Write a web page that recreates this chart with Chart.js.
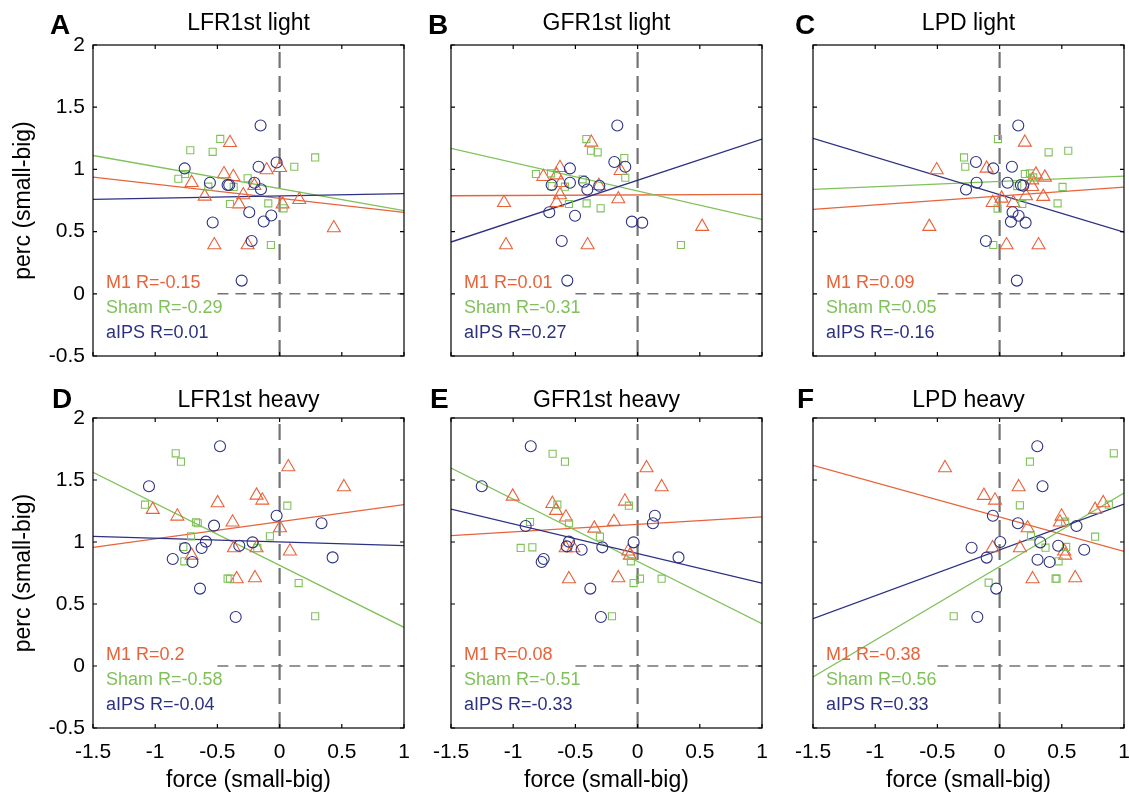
<!DOCTYPE html>
<html>
<head>
<meta charset="utf-8">
<script src="https://cdn.jsdelivr.net/npm/chart.js@4.4.0/dist/chart.umd.min.js"></script>
<style>
  body { margin: 0; background: #fff; width: 1129px; height: 794px; position: relative; overflow: hidden; }
  canvas { position: absolute; }
</style>
</head>
<body>
<script>
// ---- data: [force, perc] pairs per group ----
const FIT_X = [-1.5, 1];
const X_TICKS = [-1.5, -1, -0.5, 0, 0.5, 1];
const Y_TICKS = [-0.5, 0, 0.5, 1, 1.5, 2];

const A_M1 = [[-0.399,1.214],[-0.447,0.963],[-0.372,0.941],[-0.707,0.893],[-0.104,0.995],[0.003,1.013],[-0.203,0.869],[-0.292,0.794],[-0.602,0.783],[-0.327,0.721],[0.024,0.721],[0.158,0.756],[0.436,0.529],[-0.525,0.392],[-0.257,0.392]];
const A_SHAM = [[-0.477,1.245],[-0.718,1.154],[-0.538,1.141],[0.286,1.096],[0.118,1.021],[-0.814,0.925],[-0.760,0.963],[-0.257,0.928],[-0.573,0.861],[-0.369,0.859],[-0.399,0.722],[-0.091,0.727],[0.032,0.687],[-0.070,0.392]];
const A_AIPS = [[-0.153,1.353],[-0.763,1.008],[-0.024,1.056],[-0.169,1.021],[-0.560,0.893],[-0.418,0.874],[-0.405,0.874],[-0.203,0.893],[-0.150,0.840],[-0.244,0.656],[-0.067,0.629],[-0.128,0.581],[-0.538,0.573],[-0.225,0.424],[-0.305,0.106]];
const A_FIT = { m1: [0.938, 0.655], sham: [1.112, 0.669], aips: [0.759, 0.805] };
const A_R = ['M1 R=-0.15', 'Sham R=-0.29', 'aIPS R=0.01'];

const B_M1 = [[-0.372,1.217],[-0.624,1.013],[-0.651,0.954],[-0.758,0.941],[-0.616,0.893],[-0.311,0.869],[-0.137,0.989],[-0.624,0.794],[-0.651,0.732],[-0.155,0.762],[-1.074,0.732],[0.519,0.540],[-1.058,0.392],[-0.402,0.392]];
const B_SHAM = [[-0.412,1.244],[-0.375,1.150],[-0.321,1.137],[-0.107,1.091],[-0.099,0.933],[-0.817,0.963],[-0.696,0.968],[-0.442,0.920],[-0.584,0.861],[-0.691,0.866],[-0.552,0.722],[-0.410,0.727],[-0.297,0.687],[0.348,0.392]];
const B_AIPS = [[-0.163,1.353],[-0.544,1.008],[-0.187,1.059],[-0.099,1.021],[-0.691,0.874],[-0.544,0.893],[-0.431,0.901],[-0.404,0.839],[-0.308,0.869],[-0.710,0.655],[-0.503,0.628],[-0.046,0.580],[0.037,0.572],[-0.610,0.424],[-0.565,0.106]];
const B_FIT = { m1: [0.788, 0.799], sham: [1.169, 0.598], aips: [0.416, 1.244] };
const B_R = ['M1 R=0.01', 'Sham R=-0.31', 'aIPS R=0.27'];

const C_M1 = [[0.203,1.217],[-0.506,0.995],[-0.104,1.008],[0.292,0.960],[0.364,0.936],[0.262,0.914],[0.262,0.861],[0.212,0.786],[0.351,0.781],[0.016,0.767],[-0.056,0.732],[0.110,0.732],[-0.565,0.540],[0.056,0.392],[0.313,0.392]];
const C_SHAM = [[-0.013,1.244],[0.394,1.137],[0.552,1.150],[-0.286,1.096],[-0.276,1.021],[0.203,0.963],[0.244,0.968],[0.270,0.936],[0.142,0.866],[0.506,0.859],[0.466,0.727],[0.182,0.722],[-0.016,0.685],[-0.051,0.392]];
const C_AIPS = [[0.150,1.353],[-0.190,1.059],[-0.051,1.008],[0.099,1.021],[-0.185,0.893],[-0.270,0.839],[0.064,0.893],[0.171,0.874],[0.190,0.869],[0.104,0.655],[0.153,0.628],[0.091,0.580],[0.209,0.572],[-0.110,0.424],[0.139,0.106]];
const C_FIT = { m1: [0.679, 0.858], sham: [0.839, 0.946], aips: [1.249, 0.495] };
const C_R = ['M1 R=0.09', 'Sham R=0.05', 'aIPS R=-0.16'];

const D_M1 = [[0.070,1.605],[0.517,1.444],[-0.498,1.315],[-0.185,1.376],[-0.139,1.336],[-1.020,1.261],[-0.822,1.207],[-0.378,1.159],[0.003,1.113],[-0.367,0.952],[-0.185,0.952],[0.083,0.925],[-0.707,0.892],[-0.345,0.702],[-0.198,0.710]];
const D_SHAM = [[-0.835,1.715],[-0.793,1.648],[-1.082,1.301],[0.062,1.293],[-0.672,1.159],[-0.658,1.151],[-0.712,1.046],[-0.078,1.046],[-0.774,0.960],[-0.179,0.952],[-0.766,0.844],[-0.418,0.704],[-0.399,0.704],[0.153,0.669],[0.286,0.401]];
const D_AIPS = [[-0.479,1.772],[-1.050,1.449],[-0.527,1.132],[-0.024,1.212],[0.337,1.151],[-0.592,1.003],[-0.760,0.952],[-0.627,0.952],[-0.859,0.863],[-0.701,0.839],[-0.324,0.970],[-0.217,0.997],[0.426,0.876],[-0.640,0.624],[-0.353,0.395]];
const D_FIT = { m1: [0.957, 1.301], sham: [1.562, 0.312], aips: [1.046, 0.970] };
const D_R = ['M1 R=0.2', 'Sham R=-0.58', 'aIPS R=-0.04'];

const E_M1 = [[0.072,1.597],[0.193,1.444],[-1.004,1.368],[-0.685,1.309],[-0.102,1.328],[-0.656,1.253],[-0.576,1.199],[-0.190,1.164],[-0.348,1.110],[-0.578,0.952],[-0.517,0.952],[-0.075,0.925],[-0.062,0.892],[-0.552,0.702],[-0.155,0.710]];
const E_SHAM = [[-0.683,1.712],[-0.584,1.648],[-0.645,1.301],[-0.070,1.293],[-0.865,1.161],[-0.552,1.151],[-0.303,1.043],[-0.940,0.952],[-0.846,0.957],[-0.054,0.844],[0.019,0.704],[-0.032,0.669],[0.193,0.704],[-0.206,0.401]];
const E_AIPS = [[-0.859,1.772],[-1.253,1.449],[-0.900,1.129],[0.139,1.212],[0.123,1.151],[-0.552,1.003],[-0.570,0.965],[-0.450,0.938],[-0.284,0.957],[-0.032,0.997],[-0.755,0.863],[-0.771,0.839],[0.329,0.876],[-0.380,0.624],[-0.295,0.395]];
const E_FIT = { m1: [1.051, 1.202], sham: [1.597, 0.341], aips: [1.266, 0.669] };
const E_R = ['M1 R=0.08', 'Sham R=-0.51', 'aIPS R=-0.33'];

const F_M1 = [[-0.439,1.597],[0.153,1.444],[-0.126,1.374],[-0.037,1.336],[0.833,1.315],[0.768,1.261],[0.498,1.207],[0.485,1.159],[0.225,1.113],[-0.056,0.952],[0.163,0.952],[0.519,0.925],[0.527,0.892],[0.265,0.702],[0.608,0.710]];
const F_SHAM = [[0.918,1.715],[0.244,1.648],[0.163,1.296],[0.878,1.301],[0.527,1.164],[0.252,1.046],[0.768,1.043],[0.369,0.954],[0.535,0.960],[0.474,0.844],[0.450,0.704],[0.458,0.704],[-0.088,0.672],[-0.369,0.401]];
const F_AIPS = [[0.303,1.772],[0.345,1.449],[-0.054,1.212],[0.147,1.151],[0.618,1.129],[0.005,1.000],[0.327,0.997],[0.471,0.970],[0.680,0.938],[-0.225,0.954],[-0.104,0.874],[0.305,0.857],[0.402,0.839],[-0.027,0.624],[-0.179,0.395]];
const F_FIT = { m1: [1.618, 0.925], sham: [-0.089, 1.395], aips: [0.382, 1.306] };
const F_R = ['M1 R=-0.38', 'Sham R=0.56', 'aIPS R=0.33'];

// ---- styling ----
const FONT = '"Liberation Sans", Arial, Helvetica, sans-serif';
const C_ORANGE = '#e8633a';
const C_GREEN = '#80c25a';
const C_NAVY = '#2c3182';
const C_DASH = '#737373';

Chart.defaults.font.family = FONT;
Chart.defaults.color = '#000';

// cell geometry in page pixels (plot box edges)
const COLS = [
  { left: 0, width: 410, plotLeft: 93, plotRight: 404 },
  { left: 410, width: 360, plotLeft: 451, plotRight: 762 },
  { left: 770, width: 359, plotLeft: 813, plotRight: 1124 }
];
const ROWS = [
  { top: 0, height: 380, plotTop: 45, plotBottom: 356, titleOff: 15, letterOff: 11 },
  { top: 380, height: 414, plotTop: 418, plotBottom: 728, titleOff: 11, letterOff: 10 }
];

const PANELS = [
  { letter: 'A', letterX: 50, title: 'LFR1st light', m1: A_M1, sham: A_SHAM, aips: A_AIPS, fit: A_FIT, r: A_R, col: 0, row: 0 },
  { letter: 'B', letterX: 18, title: 'GFR1st light', m1: B_M1, sham: B_SHAM, aips: B_AIPS, fit: B_FIT, r: B_R, col: 1, row: 0 },
  { letter: 'C', letterX: 25, title: 'LPD light', m1: C_M1, sham: C_SHAM, aips: C_AIPS, fit: C_FIT, r: C_R, col: 2, row: 0 },
  { letter: 'D', letterX: 52, title: 'LFR1st heavy', m1: D_M1, sham: D_SHAM, aips: D_AIPS, fit: D_FIT, r: D_R, col: 0, row: 1 },
  { letter: 'E', letterX: 20, title: 'GFR1st heavy', m1: E_M1, sham: E_SHAM, aips: E_AIPS, fit: E_FIT, r: E_R, col: 1, row: 1 },
  { letter: 'F', letterX: 27, title: 'LPD heavy', m1: F_M1, sham: F_SHAM, aips: F_AIPS, fit: F_FIT, r: F_R, col: 2, row: 1 }
];

const pts = arr => arr.map(p => ({ x: p[0], y: p[1] }));
const fitPts = ys => FIT_X.map((x, i) => ({ x, y: ys[i] }));
const fmtTick = v => String(Math.round(v * 10) / 10);

// frame, inward ticks, titles, panel letters and R annotations
const decor = {
  id: 'decor',
  afterDraw(chart, args, o) {
    const { ctx, chartArea: a, scales: { x, y } } = chart;
    ctx.save();
    ctx.strokeStyle = '#000';
    ctx.lineWidth = 1.2;
    ctx.strokeRect(a.left, a.top, a.right - a.left, a.bottom - a.top);
    ctx.beginPath();
    X_TICKS.forEach(v => {
      const px = x.getPixelForValue(v);
      ctx.moveTo(px, a.bottom); ctx.lineTo(px, a.bottom - 4);
      ctx.moveTo(px, a.top); ctx.lineTo(px, a.top + 4);
    });
    Y_TICKS.forEach(v => {
      const py = y.getPixelForValue(v);
      ctx.moveTo(a.left, py); ctx.lineTo(a.left + 4, py);
      ctx.moveTo(a.right, py); ctx.lineTo(a.right - 4, py);
    });
    ctx.stroke();

    ctx.fillStyle = '#000';
    ctx.textBaseline = 'alphabetic';
    ctx.textAlign = 'center';
    ctx.font = '23px ' + FONT;
    ctx.fillText(o.title, (a.left + a.right) / 2, a.top - o.titleOff);

    ctx.textAlign = 'left';
    ctx.font = 'bold 28px ' + FONT;
    ctx.fillText(o.letter, o.letterX, a.top - o.letterOff);

    ctx.font = '18px ' + FONT;
    const cols = [C_ORANGE, C_GREEN, C_NAVY];
    [68, 43, 18].forEach((off, i) => {
      ctx.fillStyle = cols[i];
      ctx.fillText(o.r[i], a.left + 13, a.bottom - off);
    });
    ctx.restore();
  }
};

function scatterSet(label, data, style, radius, color) {
  return {
    label, data: pts(data), showLine: false,
    pointStyle: style, pointRadius: radius, pointHoverRadius: radius,
    pointBorderColor: color, pointBackgroundColor: 'rgba(0,0,0,0)', pointBorderWidth: 1.1
  };
}

function lineSet(label, data, color, width, dash) {
  return {
    label, data, showLine: true, pointRadius: 0,
    borderColor: color, borderWidth: width, borderDash: dash || [], fill: false
  };
}

function renderPanel(p) {
  const c = COLS[p.col], r = ROWS[p.row];
  const canvas = document.createElement('canvas');
  canvas.width = c.width; canvas.height = r.height;
  canvas.style.left = c.left + 'px'; canvas.style.top = r.top + 'px';
  canvas.style.width = c.width + 'px'; canvas.style.height = r.height + 'px';
  document.body.appendChild(canvas);

  const bottomRow = p.row === 1;
  const firstCol = p.col === 0;

  // first datasets draw on top
  const datasets = [
    scatterSet('aIPS', p.aips, 'circle', 5.5, C_NAVY),
    scatterSet('Sham', p.sham, 'rect', 5, C_GREEN),
    scatterSet('M1', p.m1, 'triangle', 7.5, C_ORANGE),
    lineSet('aIPS fit', fitPts(p.fit.aips), C_NAVY, 1.3),
    lineSet('Sham fit', fitPts(p.fit.sham), C_GREEN, 1.3),
    lineSet('M1 fit', fitPts(p.fit.m1), C_ORANGE, 1.3),
    lineSet('zero y', [{ x: -0.5, y: 0 }, { x: 1, y: 0 }], C_DASH, 1.5, [11, 7]),
    lineSet('zero x', [{ x: 0, y: -0.5 }, { x: 0, y: 2 }], C_DASH, 2.2, [16, 8])
  ];

  new Chart(canvas.getContext('2d'), {
    type: 'scatter',
    data: { datasets },
    plugins: [decor],
    options: {
      responsive: false,
      animation: false,
      events: [],
      layout: {
        autoPadding: false,
        padding: { left: 0, top: r.plotTop - r.top, right: c.left + c.width - c.plotRight, bottom: 0 }
      },
      plugins: {
        legend: { display: false },
        tooltip: { enabled: false },
        decor: { title: p.title, letter: p.letter, letterX: p.letterX, r: p.r, titleOff: r.titleOff, letterOff: r.letterOff }
      },
      scales: {
        x: {
          type: 'linear', min: -1.5, max: 1,
          grid: { display: false, drawTicks: false },
          border: { display: false },
          ticks: { display: bottomRow, stepSize: 0.5, padding: 12, font: { size: 21 }, color: '#000', callback: fmtTick },
          title: { display: bottomRow, text: 'force (small-big)', font: { size: 23 }, color: '#000', padding: { top: 0, bottom: 0 } },
          afterFit: s => {
            s.height = r.top + r.height - r.plotBottom;
            s.paddingLeft = 0; s.paddingRight = 0;
          }
        },
        y: {
          type: 'linear', min: -0.5, max: 2,
          grid: { display: false, drawTicks: false },
          border: { display: false },
          ticks: { display: firstCol, stepSize: 0.5, padding: 8, font: { size: 21 }, color: '#000', callback: fmtTick },
          title: { display: firstCol, text: 'perc (small-big)', font: { size: 23 }, color: '#000', padding: { top: 10, bottom: 0 } },
          afterFit: s => {
            s.width = c.plotLeft - c.left;
            s.paddingTop = 0; s.paddingBottom = 0;
          }
        }
      }
    }
  });
}

PANELS.forEach(renderPanel);
</script>
</body>
</html>
